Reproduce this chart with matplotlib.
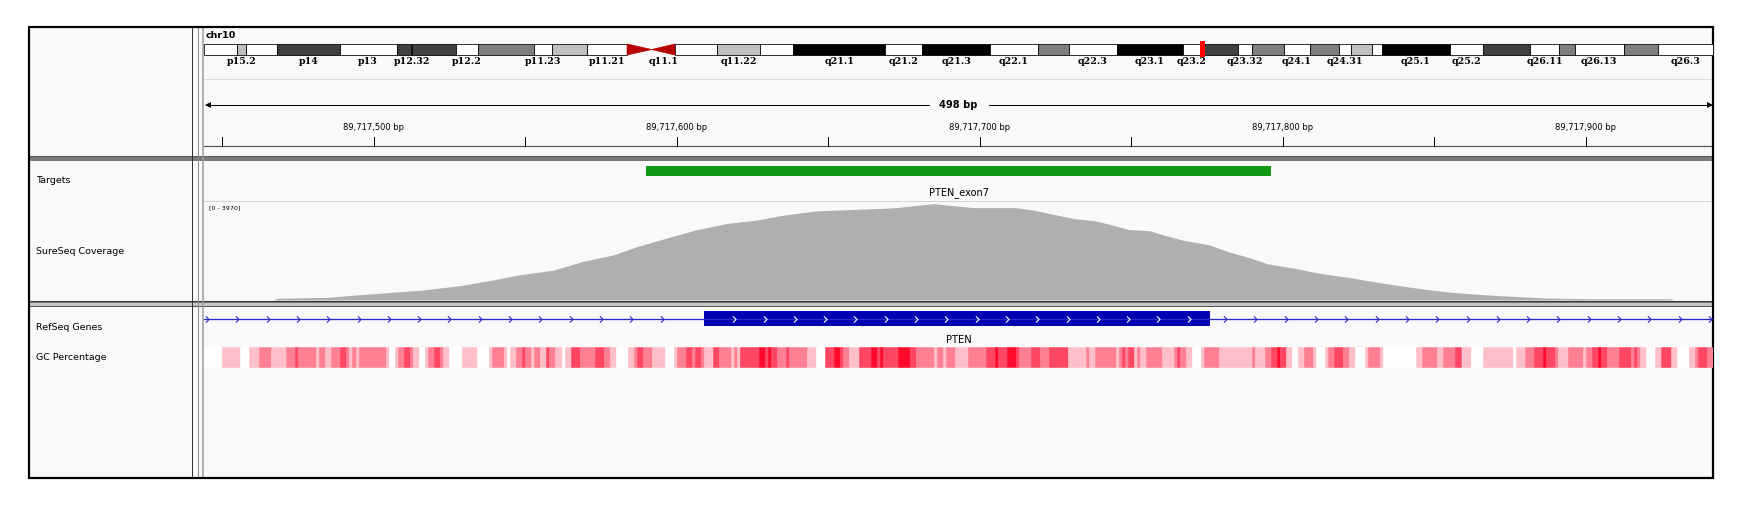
import numpy as np
import matplotlib
matplotlib.use("Agg")
import matplotlib.pyplot as plt
from matplotlib.path import Path
from matplotlib.patches import Rectangle, Polygon
from matplotlib.transforms import blended_transform_factory

W, H = 1750, 512
PX = 0.72  # one pixel in points at dpi 100

# ---------------- data ----------------
chrom = "chr10"
chrom_len = 135534747
view_start = 89717444
view_end = 89717942

# cytobands of chr10 (Mb)
band_names = ["p15.3", "p15.2", "p15.1", "p14", "p13", "p12.33", "p12.32", "p12.31", "p12.2", "p12.1",
              "p11.23", "p11.22", "p11.21", "p11.1", "q11.1", "q11.21", "q11.22", "q11.23", "q21.1", "q21.2",
              "q21.3", "q22.1", "q22.2", "q22.3", "q23.1", "q23.2", "q23.31", "q23.32", "q23.33", "q24.1",
              "q24.2", "q24.31", "q24.32", "q24.33", "q25.1", "q25.2", "q25.3", "q26.11", "q26.12", "q26.13",
              "q26.2", "q26.3"]
band_starts = [0.0, 3.0, 3.8, 6.6, 12.2, 17.3, 18.6, 18.7, 22.6, 24.6,
               29.6, 31.3, 34.4, 38.0, 40.2, 42.3, 46.1, 49.9, 52.9, 61.2,
               64.5, 70.6, 74.9, 77.7, 82.0, 87.9, 89.5, 92.9, 94.1, 97.0,
               99.3, 101.9, 103.0, 104.9, 105.8, 111.9, 114.9, 119.1, 121.7, 123.1,
               127.5, 130.6]
band_stains = ["gneg", "gpos25", "gneg", "gpos75", "gneg", "gpos75", "gneg", "gpos75", "gneg", "gpos50",
               "gneg", "gpos25", "gneg", "acen", "acen", "gneg", "gpos25", "gneg", "gpos100", "gneg",
               "gpos100", "gneg", "gpos50", "gneg", "gpos100", "gneg", "gpos75", "gneg", "gpos50", "gneg",
               "gpos50", "gneg", "gpos25", "gneg", "gpos100", "gneg", "gpos75", "gneg", "gpos50", "gneg",
               "gpos50", "gneg"]
shown_bands = ["p15.2", "p14", "p13", "p12.32", "p12.2", "p11.23", "p11.21", "q11.1", "q11.22", "q21.1",
               "q21.2", "q21.3", "q22.1", "q22.3", "q23.1", "q23.2", "q23.32", "q24.1", "q24.31", "q25.1",
               "q25.2", "q26.11", "q26.13", "q26.3"]

target_name = "PTEN_exon7"
target_start, target_end = 89717590, 89717796
gene_name = "PTEN"
exon_start, exon_end = 89717609, 89717776

# coverage (offset from view start in bp, read depth)
cov_max = 3970
cov_pos = [0, 23, 24, 41, 50, 63, 72, 85, 95, 104, 115, 125, 135, 143, 152, 162, 172, 183, 191, 202,
           213, 227, 241, 246, 254, 268, 274, 279, 287, 294, 299, 305, 312, 317, 323, 332, 338, 345, 351, 360,
           368, 378, 387, 394, 404, 412, 422, 432, 443, 458, 484, 485, 498]
cov_depth = [0, 0, 67, 107, 199, 318, 397, 584, 794, 1008, 1191, 1548, 1806, 2144, 2461, 2799, 3057, 3216, 3398, 3573,
             3625, 3692, 3863, 3799, 3704, 3704, 3597, 3466, 3267, 3176, 3029, 2827, 2779, 2600, 2402, 2203, 1937, 1699, 1449, 1270,
             1072, 901, 715, 584, 413, 306, 214, 147, 79, 52, 52, 0, 0]

# GC percentage heat map: segment start (offset in bp) and colour level
gc_start = [0, 6, 12, 15, 18, 22, 27, 30, 31, 37,
            38, 40, 42, 45, 47, 48, 49, 50, 51, 60,
            61, 63, 64, 66, 68, 69, 71, 73, 74, 76,
            78, 79, 81, 85, 90, 94, 95, 99, 100, 101,
            103, 105, 106, 108, 109, 111, 113, 114, 116, 118,
            119, 121, 124, 129, 132, 134, 136, 140, 142, 143,
            145, 148, 152, 155, 156, 159, 161, 162, 164, 165,
            168, 170, 174, 175, 176, 177, 183, 185, 186, 187,
            189, 192, 193, 199, 202, 205, 208, 210, 211, 213,
            216, 220, 222, 223, 224, 229, 233, 235, 241, 242,
            244, 245, 248, 252, 258, 261, 262, 265, 268, 269,
            273, 276, 279, 285, 291, 292, 294, 301, 302, 303,
            304, 305, 307, 308, 309, 311, 316, 320, 321, 322,
            324, 326, 329, 330, 335, 346, 347, 350, 352, 354,
            355, 357, 359, 361, 363, 366, 367, 370, 371, 373,
            376, 378, 380, 383, 384, 388, 389, 400, 402, 407,
            409, 413, 415, 418, 422, 432, 433, 436, 439, 442,
            443, 446, 447, 450, 455, 456, 458, 460, 461, 463,
            467, 471, 472, 473, 474, 476, 479, 481, 484, 486,
            490, 492, 493, 496]
gc_level = [0, 1, 0, 1, 2, 1, 2, 3, 2, 1,
            2, 1, 2, 3, 2, 1, 2, 1, 2, 1,
            0, 1, 2, 3, 2, 1, 0, 1, 2, 3,
            2, 1, 0, 1, 0, 1, 2, 1, 0, 1,
            2, 3, 2, 1, 2, 1, 3, 2, 1, 0,
            1, 3, 2, 3, 2, 1, 0, 1, 2, 3,
            2, 1, 0, 1, 2, 3, 2, 3, 2, 1,
            3, 2, 1, 2, 1, 3, 4, 3, 4, 3,
            2, 3, 2, 1, 0, 3, 4, 3, 2, 1,
            3, 4, 3, 4, 3, 4, 3, 2, 1, 2,
            1, 2, 1, 2, 3, 4, 3, 4, 3, 2,
            3, 2, 3, 1, 2, 1, 2, 1, 2, 3,
            2, 3, 1, 2, 1, 2, 1, 2, 3, 2,
            1, 0, 1, 2, 1, 2, 1, 2, 3, 4,
            3, 1, 0, 1, 2, 1, 0, 1, 2, 3,
            2, 1, 0, 1, 2, 1, 0, 1, 2, 1,
            2, 3, 1, 0, 1, 0, 1, 2, 3, 4,
            3, 2, 1, 2, 1, 2, 3, 4, 3, 2,
            3, 2, 3, 2, 1, 0, 1, 3, 1, 0,
            1, 2, 3, 2]
gc_colors = ["#ffffff", "#ffbfc8", "#ff8093", "#ff4663", "#ff0a2c"]

track_names = ["Targets", "SureSeq Coverage", "RefSeq Genes", "GC Percentage"]
track_label_y = [180.5, 251, 327.5, 357.5]

stain_colors = {"gneg": "#ffffff", "gpos25": "#bfbfbf", "gpos50": "#7f7f7f",
                "gpos75": "#404040", "gpos100": "#000000"}

# ---------------- layout ----------------
fig = plt.figure(figsize=(W / 100, H / 100), dpi=100)
fig.patch.set_facecolor("white")


def px_axes(x0, y0, x1, y1, z=2):
    ax = fig.add_axes([x0 / W, 1 - y1 / H, (x1 - x0) / W, (y1 - y0) / H], zorder=z)
    ax.set_facecolor("none")
    ax.axis("off")
    return ax


bg = px_axes(0, 0, W, H, z=1)
bg.set_xlim(0, W)
bg.set_ylim(H, 0)

L, T, R, B = 29, 27, 1713, 478
DX = 204  # left edge of data panel
bg.add_patch(Rectangle((L, T), R - L, B - T, fc="#f9f9f9", ec="none"))

# panel dividers
bg.plot([L, R], [156, 156], color="#555555", lw=1 * PX)
bg.add_patch(Rectangle((L, 157), R - L, 3.5, fc="#7a7a7a", ec="none"))
bg.plot([L, R], [300.5, 300.5], color="#333333", lw=1 * PX)
bg.add_patch(Rectangle((L, 302), R - L, 4, fc="#c4c4c4", ec="none"))
bg.plot([L, R], [302, 302], color="#777777", lw=1 * PX)
bg.plot([L, R], [306, 306], color="#555555", lw=1 * PX)
bg.plot([191.5, 191.5], [T, B], color="#333333", lw=1 * PX)
bg.plot([197.5, 197.5], [T, B], color="#8a8a8a", lw=1 * PX)
bg.plot([203, 203], [T, B], color="#9a9a9a", lw=1.5 * PX)
bg.add_patch(Rectangle((L, T), R - L, B - T, fc="none", ec="black", lw=2.2 * PX, zorder=5))

# header lines
bg.plot([DX, R], [79, 79], color="#dadada", lw=1 * PX)
bg.plot([DX, R], [146, 146], color="#555555", lw=1.2 * PX)
bg.plot([DX, R], [200.5, 200.5], color="#d4d4d4", lw=1 * PX)

# ---------------- ideogram ----------------
bg.text(206, 36, chrom, fontsize=6.8, fontweight="bold", ha="left", va="center")
iax = px_axes(DX, 44, R, 55)
iax.set_xlim(0, chrom_len)
iax.set_ylim(0, 1)
b_start = np.array(band_starts) * 1e6
b_end = np.append(b_start[1:], chrom_len)
for name, s, e, stain in zip(band_names, b_start, b_end, band_stains):
    if stain == "acen":
        if name.startswith("p"):
            pts = [(s, 0), (s, 1), (e, 0.5)]
        else:
            pts = [(s, 0.5), (e, 1), (e, 0)]
        iax.add_patch(Polygon(pts, closed=True, fc="#b80000", ec="#b80000", lw=0.5, clip_on=False))
    else:
        iax.bar(s, 1, width=e - s, bottom=0, align="edge", color=stain_colors[stain],
                edgecolor="black", lw=0.8 * PX, clip_on=False)
mark_w = 5 * chrom_len / (R - DX)
view_mid = (view_start + view_end) / 2
iax.add_patch(Rectangle((view_mid - mark_w / 2, -0.2), mark_w, 1.45, fc="#ff0000", ec="none",
                        clip_on=False, zorder=4))
band_tr = blended_transform_factory(iax.transData, bg.transData)
for name, s, e in zip(band_names, b_start, b_end):
    if name in shown_bands:
        bg.text((s + e) / 2, 61, name, transform=band_tr, ha="center", va="center",
                fontsize=6.8, fontweight="bold", family="DejaVu Serif")

# ---------------- genome axes (x = bp, y = pixels) ----------------
gax = px_axes(DX, T, R, B, z=3)
gax.set_xlim(view_start, view_end)
gax.set_ylim(B, T)

# ruler
first_tick = int(np.ceil(view_start / 50.0) * 50)
for t in range(first_tick, view_end, 50):
    gax.plot([t, t], [136.5, 146], color="black", lw=1 * PX)
    if t % 100 == 0:
        gax.text(t, 127.5, f"{t:,} bp", ha="center", va="center", fontsize=6.0)
bp_px = (view_end - view_start) / (R - DX)
gap = 30 * bp_px
gax.plot([view_start + 2 * bp_px, view_mid - gap], [105, 105], color="black", lw=1 * PX)
gax.plot([view_mid + gap, view_end - 2 * bp_px], [105, 105], color="black", lw=1 * PX)
gax.plot([view_start + 3.5 * bp_px], [105], marker="<", ms=5, color="black", mew=0)
gax.plot([view_end - 3 * bp_px], [105], marker=">", ms=5, color="black", mew=0)
gax.text(view_mid, 105, f"{view_end - view_start} bp", ha="center", va="center",
         fontsize=7.1, fontweight="bold")

# targets
gax.bar(target_start, 10, width=target_end - target_start, bottom=166, align="edge",
        color="#129a16", lw=0)
gax.text((target_start + target_end) / 2, 192.5, target_name, ha="center", va="center", fontsize=7)

# coverage
bg.text(209, 207.5, f"[0 - {cov_max}]", fontsize=4.6, ha="left", va="center")
cax = px_axes(DX, 201, R, 300, z=3)
cax.set_xlim(view_start, view_end)
cax.set_ylim(0, cov_max)
cov_x = view_start + np.array(cov_pos)
cax.fill_between(cov_x, 0, cov_depth, color="#afafaf", lw=0)

# gene
chev = Path([(-0.5, 1), (0.5, 0), (-0.5, -1)], [Path.MOVETO, Path.LINETO, Path.LINETO])
gax.plot([view_start, view_end], [319, 319], color="#2a2acc", lw=1.3 * PX)
gax.bar(exon_start, 15, width=exon_end - exon_start, bottom=311, align="edge",
        color="#0000b0", lw=0)
intron_arrows = np.concatenate([np.arange(view_start + 1, exon_start - 5, 10),
                                np.arange(exon_end + 5, view_end, 10)])
gax.plot(intron_arrows, np.full(len(intron_arrows), 319), ls="none", marker=chev, ms=4.5,
         mfc="none", mec="#2a2acc", mew=1.1 * PX)
exon_arrows = np.arange(exon_start + 10, exon_end - 5, 10)
gax.plot(exon_arrows, np.full(len(exon_arrows), 318.5), ls="none", marker=chev, ms=4.5,
         mfc="none", mec="white", mew=1.1 * PX)
gax.text(view_mid, 340, gene_name, ha="center", va="center", fontsize=7.2)

# GC percentage
gc_s = np.array(gc_start)
gc_w = np.diff(np.append(gc_s, view_end - view_start))
gc_c = [gc_colors[k] for k in gc_level]
gax.bar(view_start + gc_s, 20, width=gc_w, bottom=347, align="edge", color=gc_c,
        edgecolor=gc_c, lw=0.4)

# track names
for name, y in zip(track_names, track_label_y):
    bg.text(36, y, name, fontsize=6.8, ha="left", va="center")

fig.savefig("out.png", dpi=100)
